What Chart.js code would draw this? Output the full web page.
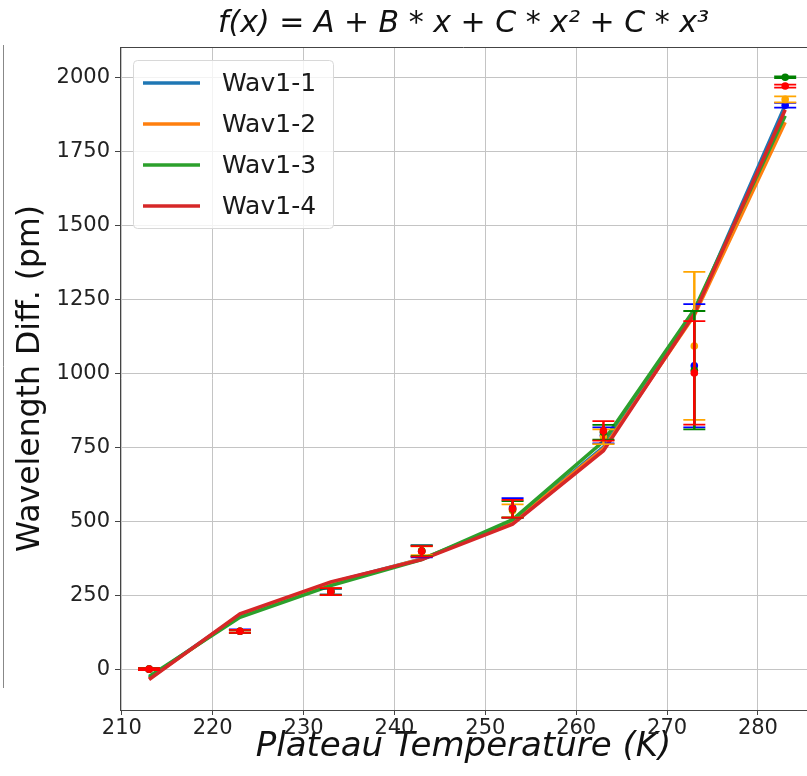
<!DOCTYPE html>
<html>
<head>
<meta charset="utf-8">
<script src="https://cdn.jsdelivr.net/npm/chart.js@4.4.1/dist/chart.umd.min.js"></script>
<style>
  html, body { margin: 0; padding: 0; background: #fff; }
  canvas { display: block; }
</style>
</head>
<body>
<canvas id="fitChart" width="807" height="776"></canvas>
<script>
// temperatures (K) where the fits and measurements sit
const temps = [213, 223, 233, 243, 253, 263, 273, 283];
const seriesNames = ['Wav1-1', 'Wav1-2', 'Wav1-3', 'Wav1-4'];

// fitted curves (pm)
const fitWav1 = [-30, 183, 292, 372, 497, 750, 1205, 1905];
const fitWav2 = [-32, 182, 290, 372, 495, 745, 1195, 1848];
const fitWav3 = [-25, 175, 282, 370, 505, 770, 1215, 1870];
const fitWav4 = [-35, 187, 295, 370, 490, 738, 1200, 1890];

// measured points (pm) and their errors
const measWav1 = [0, 128, 262, 398, 545, 790, 1025, 1905];
const measWav2 = [0, 128, 262, 400, 535, 785, 1092, 1925];
const measWav3 = [0, 128, 262, 400, 540, 800, 1010, 2000];
const measWav4 = [0, 128, 262, 398, 542, 805, 1001, 1970];
const errWav1 = [3, 6, 10, 20, 33, 27, 208, 8];
const errWav2 = [3, 5, 12, 15, 22, 25, 250, 10];
const errWav3 = [3, 5, 10, 18, 28, 25, 200, 3];
const errWav4 = [3, 5, 12, 18, 30, 33, 175, 5];

const xTicks = [210, 220, 230, 240, 250, 260, 270, 280];
const yTicks = [0, 250, 500, 750, 1000, 1250, 1500, 1750, 2000];

const fitColors = ['#1f77b4', '#ff7f0e', '#2ca02c', '#d62728'];
const pointColors = ['blue', 'orange', 'green', 'red'];

const fits = [fitWav1, fitWav2, fitWav3, fitWav4];
const meas = [measWav1, measWav2, measWav3, measWav4];
const errs = [errWav1, errWav2, errWav3, errWav4];

const toXY = arr => temps.map((t, i) => ({ x: t, y: arr[i] }));

const datasets = [];
fits.forEach((f, i) => {
    datasets.push({
        label: seriesNames[i],
        data: toXY(f),
        showLine: true,
        borderColor: fitColors[i],
        backgroundColor: fitColors[i],
        borderWidth: 3.5,
        pointRadius: 0,
        order: 8 - i,
        isFit: true
    });
});
meas.forEach((m, i) => {
    datasets.push({
        label: seriesNames[i] + ' data',
        data: toXY(m),
        errors: errs[i],
        showLine: false,
        pointRadius: 3.8,
        pointBorderWidth: 0,
        backgroundColor: pointColors[i],
        borderColor: pointColors[i],
        order: 4 - i
    });
});

const extras = {
    id: 'extras',
    beforeDatasetDraw(chart, args) {
        const ds = chart.data.datasets[args.index];
        if (!ds.errors) return;
        const ctx = chart.ctx;
        const xs = chart.scales.x, ys = chart.scales.y;
        ctx.save();
        ctx.strokeStyle = ds.borderColor;
        ds.data.forEach((p, i) => {
            const px = xs.getPixelForValue(p.x);
            const top = ys.getPixelForValue(p.y + ds.errors[i]);
            const bot = ys.getPixelForValue(p.y - ds.errors[i]);
            ctx.lineWidth = 2.5;
            ctx.beginPath();
            ctx.moveTo(px, top);
            ctx.lineTo(px, bot);
            ctx.stroke();
            ctx.lineWidth = 1.8;
            ctx.beginPath();
            ctx.moveTo(px - 11, top); ctx.lineTo(px + 11, top);
            ctx.moveTo(px - 11, bot); ctx.lineTo(px + 11, bot);
            ctx.stroke();
        });
        ctx.restore();
    },
    afterDraw(chart) {
        const ctx = chart.ctx;
        const area = chart.chartArea;
        ctx.save();
        // top spine
        ctx.strokeStyle = '#444';
        ctx.lineWidth = 1;
        ctx.beginPath();
        ctx.moveTo(area.left, area.top + 0.5);
        ctx.lineTo(area.right, area.top + 0.5);
        ctx.stroke();
        // left edge of neighbouring panel
        ctx.strokeStyle = '#888';
        ctx.beginPath();
        ctx.moveTo(3.5, 45);
        ctx.lineTo(3.5, 688);
        ctx.stroke();

        // legend
        const lx = 133, ly = 60, lw = 200, lh = 168;
        ctx.fillStyle = 'rgba(255,255,255,0.8)';
        ctx.strokeStyle = '#d8d8d8';
        ctx.lineWidth = 1;
        ctx.beginPath();
        ctx.roundRect(lx + 0.5, ly + 0.5, lw, lh, 4);
        ctx.fill();
        ctx.stroke();
        ctx.font = '25px "DejaVu Sans"';
        ctx.textBaseline = 'middle';
        ctx.fillStyle = '#1a1a1a';
        chart.data.datasets.filter(d => d.isFit).forEach((d, i) => {
            const yy = 83 + i * 41;
            ctx.strokeStyle = d.borderColor;
            ctx.lineWidth = 3.5;
            ctx.beginPath();
            ctx.moveTo(143, yy);
            ctx.lineTo(200, yy);
            ctx.stroke();
            ctx.fillText(d.label, 222, yy + 1);
        });
        ctx.restore();
    }
};

new Chart(document.getElementById('fitChart').getContext('2d'), {
    type: 'scatter',
    data: { datasets: datasets },
    options: {
        responsive: false,
        animation: false,
        devicePixelRatio: 1,
        layout: { padding: 0, autoPadding: false },
        scales: {
            x: {
                type: 'linear',
                min: 209.8,
                max: 285.4,
                afterBuildTicks: s => { s.ticks = xTicks.map(v => ({ value: v })); },
                afterFit: s => { s.height = 66; },
                grid: { color: '#c4c4c4', lineWidth: 1, tickLength: 5, tickColor: '#444' },
                border: { color: '#444', width: 1 },
                ticks: { font: { family: 'DejaVu Sans', size: 21 }, color: '#222', padding: 1, maxRotation: 0,
                         callback: v => String(v) },
                title: {
                    display: true,
                    text: 'Plateau Temperature (K)',
                    font: { family: 'DejaVu Sans', size: 34, style: 'italic', lineHeight: 1.2 },
                    color: '#111',
                    padding: { top: 0, bottom: 8 }
                }
            },
            y: {
                type: 'linear',
                min: -138,
                max: 2102,
                afterBuildTicks: s => { s.ticks = yTicks.map(v => ({ value: v })); },
                afterFit: s => { s.width = 120; },
                grid: { color: '#c4c4c4', lineWidth: 1, tickLength: 5, tickColor: '#444' },
                border: { color: '#444', width: 1 },
                ticks: { font: { family: 'DejaVu Sans', size: 21 }, color: '#222', padding: 5,
                         callback: v => String(v) },
                title: {
                    display: true,
                    text: 'Wavelength Diff. (pm)',
                    font: { family: 'DejaVu Sans', size: 31.5, lineHeight: 1.2 },
                    color: '#111',
                    padding: { top: 12, bottom: 0 }
                }
            }
        },
        plugins: {
            legend: { display: false },
            tooltip: { enabled: false },
            title: {
                display: true,
                fullSize: false,
                text: 'f(x) = A + B * x + C * x² + C * x³',
                font: { family: 'DejaVu Sans', size: 30, style: 'italic', weight: 'normal', lineHeight: 1.2 },
                color: '#111',
                padding: { top: 6, bottom: 5 }
            }
        }
    },
    plugins: [extras]
});
</script>
</body>
</html>
